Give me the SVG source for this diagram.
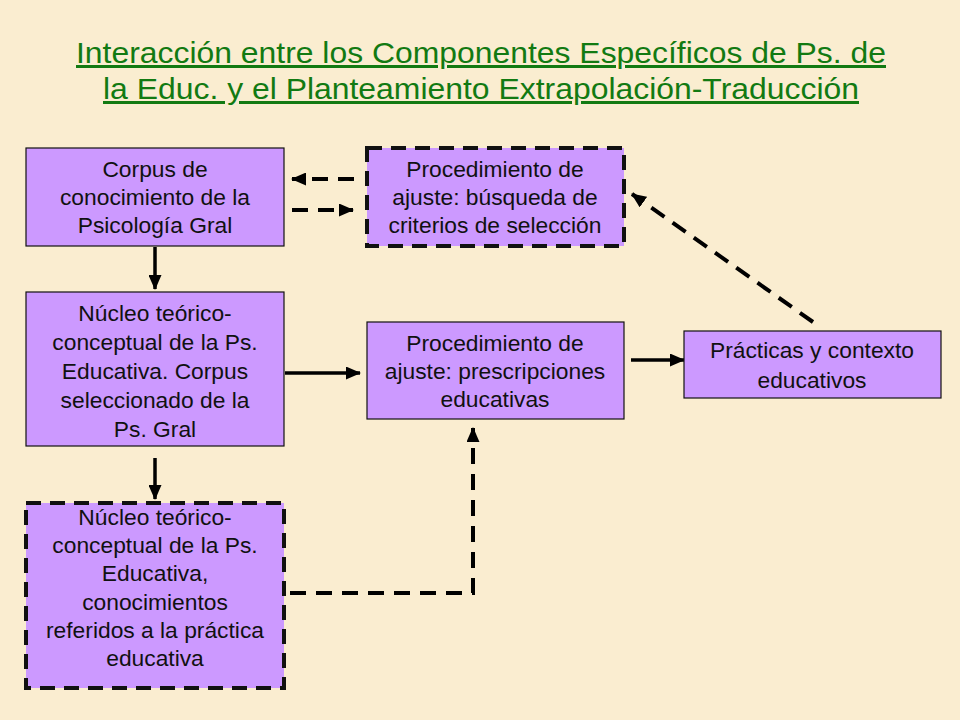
<svg xmlns="http://www.w3.org/2000/svg" width="960" height="720" viewBox="0 0 960 720">
<style>
.box{fill:#cc99ff;stroke:#111;stroke-width:1.2}
.dbox{fill:#cc99ff;stroke:#111;stroke-width:4;stroke-dasharray:15 9}
.t{font-family:"Liberation Sans",Arial,sans-serif;font-size:22.8px;fill:#111;text-anchor:middle}
.title{font-family:"Liberation Sans",Arial,sans-serif;font-size:30px;fill:#127a12;text-anchor:middle;text-decoration:underline}
.c{fill:none;stroke:#000;stroke-width:3.5}
.d{fill:none;stroke:#000;stroke-width:4;stroke-dasharray:16 10}
</style>
<defs>
<marker id="ah" markerUnits="userSpaceOnUse" markerWidth="15" markerHeight="13" refX="14" refY="6.5" orient="auto">
<path d="M0,0 L15,6.5 L0,13 Z" fill="#000"/>
</marker>
</defs>
<rect width="960" height="720" fill="#faedd0"/>
<g id="title">
<text class="title" x="481" y="63" textLength="810" lengthAdjust="spacingAndGlyphs">Interacción entre los Componentes Específicos de Ps. de</text>
<text class="title" x="481" y="99" textLength="756" lengthAdjust="spacingAndGlyphs">la Educ. y el Planteamiento Extrapolación-Traducción</text>
</g>
<g id="connectors">
<line class="c" x1="155" y1="247" x2="155" y2="289" marker-end="url(#ah)"/>
<line class="c" x1="155" y1="458" x2="155" y2="499" marker-end="url(#ah)"/>
<line class="c" x1="285" y1="373" x2="360" y2="373" marker-end="url(#ah)"/>
<line class="c" x1="631" y1="360" x2="684" y2="360" marker-end="url(#ah)"/>
<line class="d" x1="354" y1="179" x2="292" y2="179" marker-end="url(#ah)"/>
<line class="d" x1="292" y1="210" x2="353" y2="210" marker-end="url(#ah)"/>
<line class="d" x1="813" y1="322" x2="632" y2="194" marker-end="url(#ah)"/>
<polyline class="d" points="290,593 473,593 473,428" marker-end="url(#ah)"/>
</g>
<g id="n1">
<rect class="box" x="26" y="148" width="258" height="98"/>
<text class="t" x="155" y="177">Corpus de</text>
<text class="t" x="155" y="205">conocimiento de la</text>
<text class="t" x="155" y="233">Psicología Gral</text>
</g>
<g id="n2">
<rect class="dbox" x="367" y="148" width="257" height="98"/>
<text class="t" x="495" y="177">Procedimiento de</text>
<text class="t" x="495" y="205">ajuste: búsqueda de</text>
<text class="t" x="495" y="233">criterios de selección</text>
</g>
<g id="n3">
<rect class="box" x="26" y="292" width="258" height="154"/>
<text class="t" x="155" y="321">Núcleo teórico-</text>
<text class="t" x="155" y="350">conceptual de la Ps.</text>
<text class="t" x="155" y="379">Educativa. Corpus</text>
<text class="t" x="155" y="408">seleccionado de la</text>
<text class="t" x="155" y="437">Ps. Gral</text>
</g>
<g id="n4">
<rect class="dbox" x="26" y="503" width="258" height="185"/>
<text class="t" x="155" y="525">Núcleo teórico-</text>
<text class="t" x="155" y="553">conceptual de la Ps.</text>
<text class="t" x="155" y="581">Educativa,</text>
<text class="t" x="155" y="610">conocimientos</text>
<text class="t" x="155" y="638">referidos a la práctica</text>
<text class="t" x="155" y="666">educativa</text>
</g>
<g id="n5">
<rect class="box" x="367" y="322" width="257" height="97"/>
<text class="t" x="495" y="351">Procedimiento de</text>
<text class="t" x="495" y="379">ajuste: prescripciones</text>
<text class="t" x="495" y="407">educativas</text>
</g>
<g id="n6">
<rect class="box" x="684" y="331" width="257" height="67"/>
<text class="t" x="812" y="358">Prácticas y contexto</text>
<text class="t" x="812" y="388">educativos</text>
</g>
</svg>
